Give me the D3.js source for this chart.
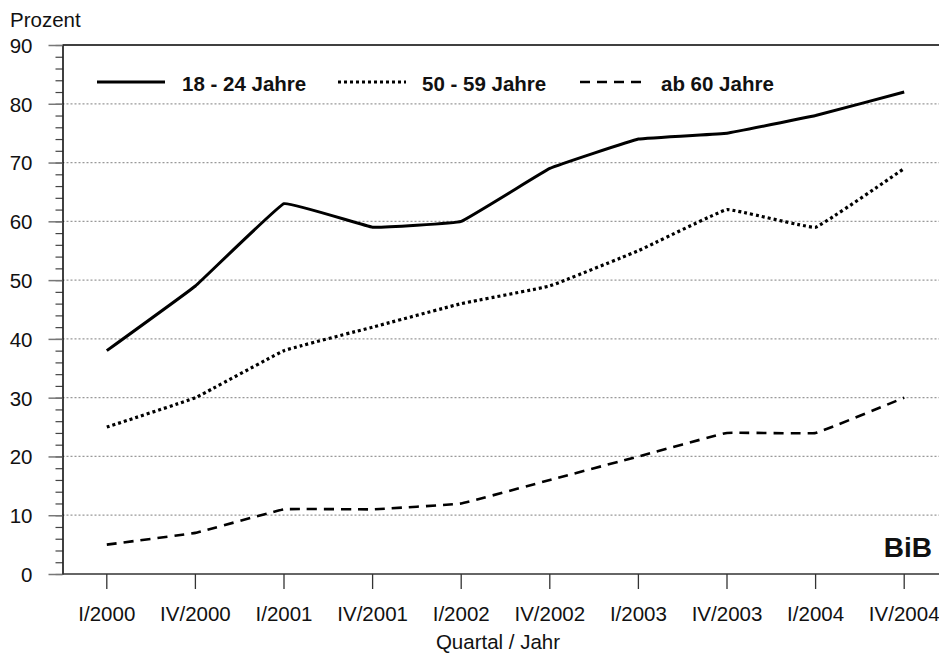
<!DOCTYPE html>
<html>
<head>
<meta charset="utf-8">
<script src="https://cdn.jsdelivr.net/npm/d3@7"></script>
<style>
  body { margin: 0; background: #fff; }
  text { font-family: "Liberation Sans", Arial, sans-serif; }
</style>
</head>
<body>
<div id="chart"></div>
<script>
// data
var quarters = ["I/2000", "IV/2000", "I/2001", "IV/2001", "I/2002", "IV/2002", "I/2003", "IV/2003", "I/2004", "IV/2004"];
var age1824 = [38, 49, 63, 59, 60, 69, 74, 75, 78, 82];
var age5059 = [25, 30, 38, 42, 46, 49, 55, 62, 59, 69];
var age60 = [5, 7, 11, 11, 12, 16, 20, 24, 24, 30];
var seriesNames = ["18 - 24 Jahre", "50 - 59 Jahre", "ab 60 Jahre"];
var yTicks = [0, 10, 20, 30, 40, 50, 60, 70, 80, 90];

var W = 939, H = 654;
var plotLeft = 62.5, plotTop = 45, plotBottom = 574;
var bandW = 88.6;

var svg = d3.select("#chart").append("svg")
  .attr("width", W).attr("height", H);

var x = d3.scaleBand()
  .domain(quarters)
  .range([plotLeft, plotLeft + bandW * quarters.length]);

var y = d3.scaleLinear()
  .domain([0, 90])
  .range([plotBottom, plotTop]);

// gridlines
svg.append("g")
  .selectAll("line")
  .data(yTicks.filter(function(d) { return d > 0 && d < 90; }))
  .enter().append("line")
  .attr("x1", plotLeft).attr("x2", W)
  .attr("y1", function(d) { return y(d); })
  .attr("y2", function(d) { return y(d); })
  .attr("stroke", "#999")
  .attr("stroke-width", 1.3)
  .attr("stroke-dasharray", "2,2");

// top frame line
svg.append("line")
  .attr("x1", plotLeft).attr("x2", W)
  .attr("y1", plotTop).attr("y2", plotTop)
  .attr("stroke", "#000").attr("stroke-width", 1.5);

// y axis minor ticks
svg.append("g")
  .attr("transform", "translate(" + plotLeft + ",0)")
  .call(d3.axisLeft(y).tickValues(d3.range(0, 91, 2)).tickSize(7).tickFormat(""))
  .call(function(g) { g.selectAll("line").attr("stroke", "#444").attr("stroke-width", 1.2); g.select(".domain").remove(); });

// y axis major ticks
var yAxis = svg.append("g")
  .attr("transform", "translate(" + plotLeft + ",0)")
  .call(d3.axisLeft(y).tickValues(yTicks).tickSize(14).tickPadding(16).tickSizeOuter(0));
yAxis.select(".domain").attr("stroke", "#000").attr("stroke-width", 1.5);
yAxis.selectAll("line").attr("stroke", "#777").attr("stroke-width", 1.5);
yAxis.selectAll("text").attr("fill", "#111").style("font-size", "20.5px").attr("dy", "0.36em");

// x axis
var xAxis = svg.append("g")
  .attr("transform", "translate(0," + plotBottom + ")")
  .call(d3.axisBottom(x).tickSize(15).tickPadding(17).tickSizeOuter(0));
xAxis.select(".domain").attr("stroke", "#333").attr("stroke-width", 1.5)
  .attr("d", "M" + plotLeft + ",0H" + W);
xAxis.selectAll("line").attr("stroke", "#333").attr("stroke-width", 1.3);
xAxis.selectAll("text").attr("fill", "#111").style("font-size", "20.5px");

// axis titles
svg.append("text").attr("x", 10).attr("y", 27)
  .style("font-size", "20.5px").attr("fill", "#111").text("Prozent");
svg.append("text").attr("x", 498).attr("y", 649)
  .attr("text-anchor", "middle")
  .style("font-size", "20.5px").attr("fill", "#111").text("Quartal / Jahr");

// lines
var styles = [
  { data: age1824, dash: null, width: 3 },
  { data: age5059, dash: "3,3", width: 3.2 },
  { data: age60, dash: "10,7", width: 2.6 }
];

var line = d3.line()
  .x(function(d, i) { return x(quarters[i]) + x.bandwidth() / 2; })
  .y(function(d) { return y(d); })
  .curve(d3.curveCardinal.tension(0.8));

styles.forEach(function(s) {
  svg.append("path")
    .datum(s.data)
    .attr("fill", "none")
    .attr("stroke", "#000")
    .attr("stroke-width", s.width)
    .attr("stroke-dasharray", s.dash)
    .attr("d", line);
});

// legend
var legendX = [97, 338, 580];
var legendTextX = [182, 422, 661];
styles.forEach(function(s, i) {
  svg.append("line")
    .attr("x1", legendX[i]).attr("x2", legendX[i] + 68)
    .attr("y1", 82).attr("y2", 82)
    .attr("stroke", "#000")
    .attr("stroke-width", s.width)
    .attr("stroke-dasharray", s.dash);
  svg.append("text")
    .attr("x", legendTextX[i]).attr("y", 91)
    .style("font-size", "20.5px").style("font-weight", "bold")
    .attr("fill", "#111")
    .text(seriesNames[i]);
});

// BiB mark
svg.append("text")
  .attr("x", 932).attr("y", 557)
  .attr("text-anchor", "end")
  .style("font-size", "28px").style("font-weight", "bold")
  .attr("fill", "#111")
  .text("BiB");
</script>
</body>
</html>
